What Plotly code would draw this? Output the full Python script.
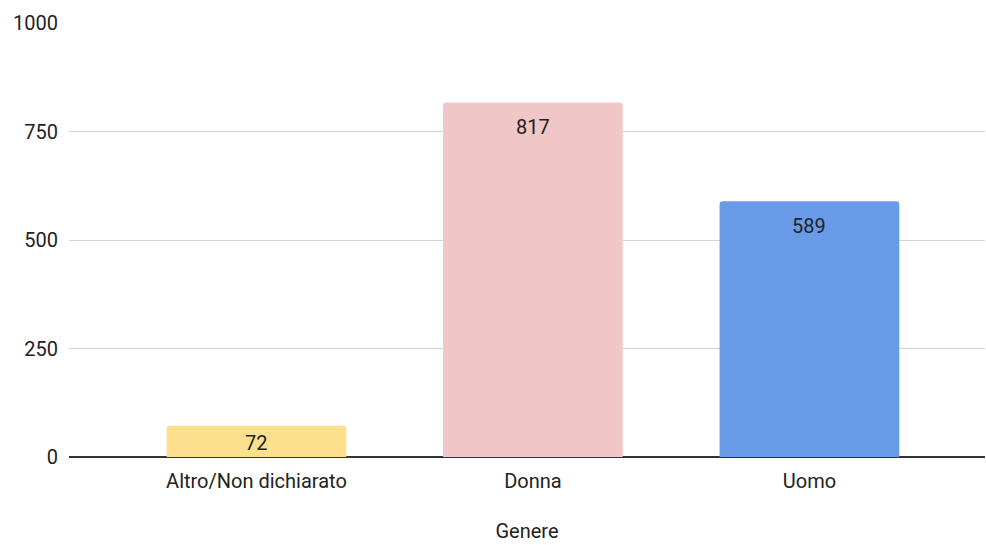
import plotly.graph_objects as go

# Dati
categorie = ["Altro/Non dichiarato", "Donna", "Uomo"]
valori = [72, 817, 589]
colori = ["#FDE08E", "#F1C6C6", "#6A9BE8"]

ALTEZZA_PLOT = 434  # px tra 0 e 1000
Y_MAX = 1000

fig = go.Figure()

fig.add_trace(go.Bar(
    x=list(range(len(categorie))),
    y=valori,
    marker_color=colori,
    marker_line_width=0,
    width=0.65,
    hoverinfo="x+y",
))

# Etichette dei valori dentro le barre, vicino alla cima
for i, v in enumerate(valori):
    h = v / Y_MAX * ALTEZZA_PLOT
    fig.add_annotation(
        x=i, y=v,
        text=str(v),
        showarrow=False,
        yanchor="top",
        yshift=-min(11, max(0, (h - 24) / 2)),
        font=dict(family="Roboto", size=20, color="#222222"),
    )

fig.update_layout(
    width=986,
    height=545,
    margin=dict(l=69, r=1, t=23, b=88),
    paper_bgcolor="white",
    plot_bgcolor="white",
    font=dict(family="Roboto", size=20, color="#222222"),
    showlegend=False,
    barcornerradius=3,
    xaxis=dict(
        tickmode="array",
        tickvals=list(range(len(categorie))),
        ticktext=categorie,
        range=[-0.678, 2.635],
        showgrid=False,
        zeroline=False,
        showline=False,
        ticks="",
        ticklabelstandoff=10,
        title=dict(text="Genere", standoff=31, font=dict(size=20)),
    ),
    yaxis=dict(
        range=[0, Y_MAX],
        tickvals=[0, 250, 500, 750, 1000],
        showgrid=True,
        gridcolor="#D4D4D4",
        gridwidth=1,
        zeroline=True,
        zerolinecolor="#333333",
        zerolinewidth=1.5,
        showline=False,
        ticks="",
        ticklabelstandoff=10,
    ),
)

fig.write_html(
    "out.html",
    config={"displayModeBar": False},
    post_script="document.body.style.margin='0';",
)
